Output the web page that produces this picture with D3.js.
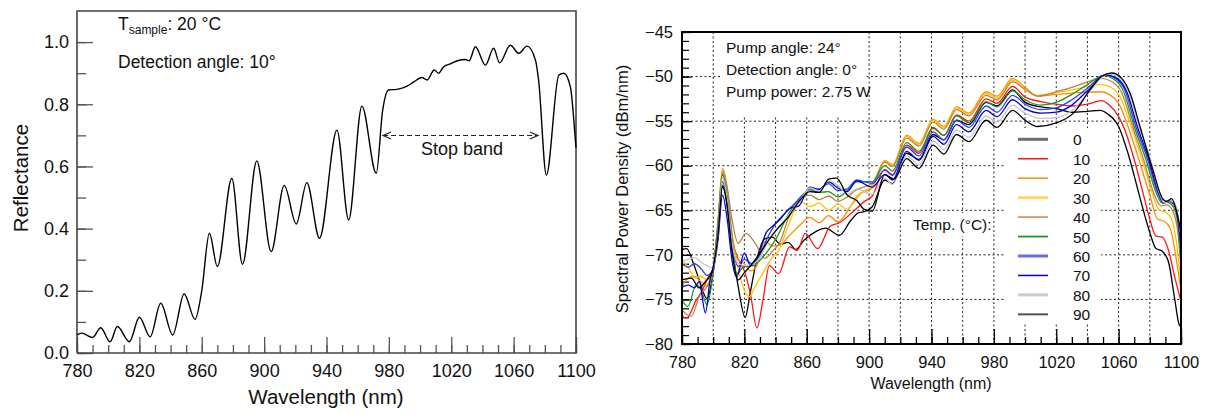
<!DOCTYPE html>
<html><head><meta charset="utf-8">
<script src="https://cdn.jsdelivr.net/npm/d3@7"></script>
<style>
body{margin:0;background:#fff}
svg{display:block}
text{font-family:Arial,"Liberation Sans",Helvetica,sans-serif;fill:#111}
</style>
</head><body>
<svg id="c" width="1208" height="414"></svg>
<script>
// ---------------- DATA ----------------
// Left panel: reflectance spectrum (wavelength nm, reflectance)
const reflWavelength = [780,783,790,795.2,801.2,805.9,813.6,820,826.9,833.7,841.4,848.7,855.7,860,864.9,870,879.3,886.1,895.3,904.5,912.9,920.6,927.4,935.5,946.7,954.2,962.7,971.9,976,979.8,985.2,991.6,996,1001.2,1004.5,1009.1,1011.9,1015,1019.4,1024,1029,1031.5,1035.5,1041.9,1047.2,1051,1057.9,1063.3,1068.6,1074,1076,1081,1089,1092.2,1096.4,1099.6,1100];
const reflValues     = [0.058,0.064,0.05,0.081,0.036,0.085,0.036,0.115,0.052,0.16,0.058,0.19,0.108,0.2,0.385,0.278,0.562,0.285,0.618,0.326,0.539,0.415,0.548,0.369,0.717,0.428,0.794,0.578,0.78,0.846,0.848,0.858,0.872,0.886,0.878,0.91,0.9,0.92,0.93,0.94,0.944,0.94,0.985,0.926,0.98,0.933,0.99,0.964,0.987,0.942,0.878,0.572,0.894,0.9,0.856,0.685,0.66];
const leftXTicks = [780,820,860,900,940,980,1020,1060,1100];
const leftYTicks = [0,0.2,0.4,0.6,0.8,1.0];

// Right panel: spectral power density (dBm/nm) per temperature, [wavelength, value]
const temps = [0,10,20,30,40,50,60,70,80,90];
const spdT0 = [[780,-69.4],[783,-69.3],[787,-70.8],[791,-72.8],[796,-74.9],[799,-73.0],[802,-68.5],[806,-62.4],[809,-64.5],[812,-69.0],[816,-73.5],[820.5,-77.0],[824,-74.0],[828,-70.5],[833,-68.2],[838,-68.0],[843,-68.8],[848,-68.6],[853,-69.4],[858,-68.4],[863,-67.7],[872,-67.0],[881,-67.8],[888,-66.2],[893,-65.3],[898,-65.1],[902,-64.6],[910,-61.6],[915,-62.0],[924,-58.6],[932,-59.3],[941,-56.5],[948,-57.1],[956,-54.9],[964,-55.4],[975,-52.9],[982,-53.3],[992,-51.5],[1000,-52.9],[1010,-53.4],[1020,-53.6],[1030,-54.0],[1040,-53.9],[1048,-53.8],[1053,-54.2],[1060,-55.6],[1066,-58.6],[1074,-63.8],[1080,-67.5],[1084,-69.3],[1088,-69.6],[1092,-70.8],[1096,-75.0],[1099,-77.9],[1100,-78.0]];
const spdT10 = [[780,-76.9],[783,-77.1],[789,-75.1],[793,-74.0],[797,-72.4],[800,-71.5],[803,-67.0],[806,-60.9],[809,-63.5],[812,-68.0],[816,-70.5],[820,-71.8],[824,-74.5],[828,-78.2],[832,-75.0],[836,-71.2],[842,-72.1],[849,-69.1],[854,-69.5],[859,-67.6],[867,-69.3],[875,-66.8],[881,-66.4],[890,-65.1],[897,-64.0],[902,-63.4],[910,-60.4],[915,-61.0],[924,-57.7],[932,-58.6],[941,-55.8],[948,-56.6],[956,-54.3],[964,-55.0],[975,-52.5],[982,-53.0],[992,-51.1],[1000,-52.3],[1010,-52.8],[1020,-53.1],[1030,-53.3],[1040,-53.1],[1049,-52.7],[1054,-53.2],[1060,-54.5],[1064,-56.0],[1070,-59.3],[1076,-63.3],[1080,-66.0],[1084,-67.9],[1088,-68.0],[1092,-69.5],[1096,-72.5],[1100,-75.2]];
const spdT20 = [[780,-73.6],[784,-72.6],[788,-72.4],[792,-73.0],[796,-73.5],[800,-71.8],[803,-66.5],[806,-60.3],[809,-62.5],[812,-67.5],[816,-70.6],[820,-71.0],[824,-71.8],[828,-71.2],[833,-68.5],[838,-69.0],[843,-68.9],[848,-68.0],[856,-66.6],[862,-65.8],[868,-66.4],[874,-65.6],[880,-66.3],[888,-64.6],[894,-63.2],[902,-62.5],[910,-59.4],[915,-59.9],[924,-56.6],[932,-57.5],[941,-54.8],[948,-55.6],[956,-53.4],[964,-54.1],[975,-51.7],[982,-52.2],[992,-50.2],[1000,-51.2],[1008,-52.2],[1020,-52.0],[1035,-51.8],[1049,-51.7],[1054,-52.0],[1060,-53.0],[1066,-55.6],[1073,-59.3],[1080,-63.3],[1085,-66.0],[1089,-66.2],[1093,-67.0],[1097,-70.5],[1100,-74.0]];
const spdT30 = [[780,-70.6],[784,-71.4],[788,-72.6],[792,-72.4],[796,-72.8],[800,-71.6],[803,-66.8],[806,-60.5],[809,-63.0],[812,-68.3],[816,-71.5],[820,-74.0],[823,-74.7],[827,-73.5],[832,-72.0],[837,-70.5],[842,-69.5],[848,-66.8],[856,-64.0],[862,-64.6],[868,-64.2],[874,-65.0],[880,-64.3],[886,-64.9],[892,-63.4],[902,-62.2],[910,-59.5],[915,-60.0],[924,-56.7],[932,-57.6],[941,-54.9],[948,-55.7],[956,-53.5],[964,-54.2],[975,-51.9],[982,-52.4],[992,-50.4],[1000,-51.5],[1008,-52.1],[1020,-51.8],[1030,-51.5],[1040,-51.1],[1049,-50.9],[1055,-51.2],[1061,-52.3],[1068,-55.6],[1075,-59.3],[1082,-63.3],[1086,-65.0],[1090,-65.2],[1094,-66.0],[1097,-68.5],[1100,-73.5]];
const spdT40 = [[780,-76.2],[785.8,-76.9],[791,-74.7],[797,-73.2],[800,-71.5],[803,-66.5],[806,-60.6],[809,-62.5],[812,-66.0],[816,-68.7],[821,-67.6],[827,-68.7],[833,-70.4],[838,-69.6],[843,-68.5],[848,-66.0],[856,-63.8],[862,-63.3],[868,-63.8],[874,-63.4],[880,-64.0],[886,-63.5],[892,-62.7],[902,-62.0],[910,-59.6],[915,-60.1],[924,-56.9],[932,-57.8],[941,-55.1],[948,-55.9],[956,-53.7],[964,-54.4],[975,-52.1],[982,-52.6],[992,-50.6],[1000,-51.4],[1008,-52.2],[1020,-51.7],[1030,-51.2],[1040,-50.6],[1049,-50.2],[1056,-50.6],[1062,-51.8],[1069,-55.6],[1076,-59.3],[1083,-63.3],[1087,-64.5],[1091,-64.4],[1095,-65.2],[1098,-67.5],[1100,-71.5]];
const spdT50 = [[780,-75.1],[783.8,-75.8],[789,-73.4],[792,-73.8],[796,-75.6],[800,-72.0],[803,-66.8],[806,-61.0],[809,-63.5],[812,-68.0],[815,-72.1],[820,-71.3],[826,-71.2],[830,-70.6],[834,-69.8],[840,-68.3],[848,-65.5],[856,-63.5],[862,-62.7],[868,-63.0],[874,-62.9],[880,-63.5],[886,-62.8],[892,-61.8],[902,-61.8],[910,-60.0],[915,-60.6],[924,-57.4],[932,-58.4],[941,-55.7],[948,-56.6],[956,-54.4],[964,-55.2],[975,-52.8],[982,-53.4],[992,-51.6],[1000,-52.6],[1010,-53.2],[1020,-52.9],[1030,-52.0],[1040,-50.9],[1050,-49.9],[1057,-50.3],[1063,-51.6],[1070,-55.6],[1077.5,-59.3],[1084,-63.0],[1088,-64.2],[1091,-64.1],[1095,-64.6],[1098,-66.5],[1100,-71.0]];
const spdT60 = [[780,-71.0],[784,-71.4],[788,-71.0],[792,-71.5],[796,-72.3],[800,-71.8],[803,-67.5],[806,-61.8],[809,-64.0],[812,-68.5],[816,-71.3],[820,-70.5],[825,-71.0],[830,-70.0],[835,-68.0],[840,-66.5],[848,-65.0],[856,-63.6],[862,-62.6],[868,-62.6],[874,-62.0],[880,-62.8],[886,-62.6],[892,-61.6],[902,-62.0],[910,-60.5],[915,-61.1],[924,-57.9],[932,-58.9],[941,-56.2],[948,-57.1],[956,-54.9],[964,-55.7],[975,-53.3],[982,-54.0],[992,-52.1],[1000,-53.1],[1010,-53.7],[1020,-53.5],[1030,-52.6],[1040,-51.3],[1051,-49.8],[1058,-50.2],[1064,-51.5],[1071,-55.6],[1078.6,-59.3],[1085,-63.0],[1089,-64.2],[1092,-64.0],[1095,-64.3],[1098,-66.0],[1100,-69.5]];
const spdT70 = [[780,-73.6],[784,-73.4],[788,-73.7],[791,-73.0],[795,-76.5],[798,-72.8],[801,-70.8],[803,-68.5],[806,-63.3],[809,-66.0],[812,-70.5],[815,-72.5],[820,-69.8],[824,-71.2],[829,-70.0],[834,-67.5],[838,-66.8],[843,-66.0],[849,-64.8],[855,-64.5],[862,-62.4],[868,-62.7],[874,-61.8],[880,-62.5],[886,-62.9],[892,-61.7],[902,-62.4],[910,-61.0],[915,-61.6],[924,-58.4],[932,-59.4],[941,-56.7],[948,-57.6],[956,-55.4],[964,-56.2],[975,-53.8],[982,-54.5],[992,-52.6],[1000,-53.6],[1010,-54.1],[1020,-54.0],[1030,-53.2],[1040,-51.6],[1052,-49.8],[1059,-50.2],[1065,-51.6],[1072,-55.6],[1079.4,-59.3],[1085.5,-63.0],[1089,-64.2],[1092,-63.9],[1095,-64.1],[1098,-65.8],[1100,-69.0]];
const spdT80 = [[780,-70.7],[784,-70.5],[788,-70.3],[792,-70.8],[796,-71.2],[800,-71.5],[803,-67.8],[806,-61.3],[809,-63.8],[812,-68.5],[816,-71.0],[821,-71.2],[826,-71.0],[831,-70.0],[836,-68.2],[842,-67.0],[848,-65.6],[856,-63.8],[862,-62.5],[868,-62.8],[874,-61.7],[880,-62.2],[886,-63.2],[892,-62.6],[902,-63.2],[910,-61.4],[915,-62.1],[924,-58.9],[932,-59.9],[941,-57.2],[948,-58.2],[956,-56.0],[964,-56.8],[975,-54.4],[982,-55.1],[992,-53.2],[1000,-54.1],[1010,-54.7],[1020,-54.6],[1030,-53.8],[1040,-52.0],[1053,-49.7],[1060,-50.1],[1066,-51.6],[1073,-55.6],[1080.5,-59.3],[1086,-63.0],[1089.5,-64.2],[1092.5,-63.9],[1095.5,-64.1],[1098,-65.5],[1100,-68.0]];
const spdT90 = [[780,-72.8],[786,-72.6],[791,-73.7],[795,-73.0],[799,-72.0],[803,-68.0],[806,-62.2],[809,-64.5],[812,-69.5],[816,-72.8],[820,-72.0],[825,-71.0],[830,-69.8],[835,-68.5],[840,-67.3],[848,-65.8],[856,-63.8],[862,-62.9],[868,-63.0],[874,-61.5],[879,-61.4],[886,-63.3],[892,-63.9],[897,-64.9],[902,-65.1],[910,-61.0],[916,-61.5],[924,-59.2],[932,-60.3],[941,-57.7],[948,-58.7],[956,-56.5],[964,-57.3],[975,-54.9],[982,-55.7],[992,-53.8],[1000,-54.9],[1008,-55.6],[1020,-55.2],[1031,-54.1],[1041.6,-51.5],[1049,-50.0],[1055.5,-49.6],[1062,-50.2],[1067.3,-51.85],[1073.7,-55.6],[1082,-60.5],[1088.6,-63.8],[1091,-64.0],[1094,-63.7],[1097,-65.0],[1100,-67.5]];
const spdSeries = [spdT0,spdT10,spdT20,spdT30,spdT40,spdT50,spdT60,spdT70,spdT80,spdT90];
const rightXTicks = [780,820,860,900,940,980,1020,1060,1100];
const rightYTicks = [-80,-75,-70,-65,-60,-55,-50,-45];

// ---------------- STYLE ----------------
const curveColors  = ['#000000','#ff1414','#ff8c00','#ffc400','#c08040','#1e961e','#3040f0','#0000dc','#c4c4c4','#000000'];
const swatchColors = ['#6e6e6e','#ff1414','#ff8c00','#ffd966','#c8864a','#1e961e','#6070e8','#0000dc','#cccccc','#505050'];
const swatchWidths = [3,1.5,1.5,3,1.5,1.8,3,1.5,3,2];

const svg = d3.select('#c');

// ================= LEFT PANEL =================
const lx = d3.scaleLinear().domain([780,1100]).range([77,576]);
const ly = d3.scaleLinear().domain([0,1.1]).range([353,11]);
const L = svg.append('g');

function styleAxis(g, col, w){
  g.select('.domain').remove();
  g.selectAll('.tick line').attr('stroke',col).attr('stroke-width',w);
}
L.append('g').attr('transform','translate(0,353)')
 .call(d3.axisBottom(lx).tickValues(d3.range(780,1101,10)).tickSize(-8).tickFormat(''))
 .call(g=>styleAxis(g,'#555',1.3));
L.append('g').attr('transform','translate(0,353)')
 .call(d3.axisBottom(lx).tickValues(leftXTicks).tickSize(-16).tickPadding(11).tickFormat(d3.format('d')))
 .call(g=>styleAxis(g,'#555',1.3))
 .call(g=>g.selectAll('text').attr('font-size',18).attr('fill','#111'));
L.append('g').attr('transform','translate(77,0)')
 .call(d3.axisLeft(ly).tickValues(d3.range(0,11).map(i=>i/10)).tickSize(-9).tickFormat(''))
 .call(g=>styleAxis(g,'#555',1.3));
L.append('g').attr('transform','translate(77,0)')
 .call(d3.axisLeft(ly).tickValues(leftYTicks).tickSize(-16).tickPadding(8).tickFormat(d3.format('.1f')))
 .call(g=>styleAxis(g,'#555',1.3))
 .call(g=>g.selectAll('text').attr('font-size',18).attr('fill','#111'));

L.append('path').attr('d',`M${lx(780)},${ly(0)}V${ly(1.1)}H${lx(1100)}V${ly(0)}H${lx(780)}`)
 .attr('fill','none').attr('stroke','#444').attr('stroke-width',1.6);

const reflPts = reflWavelength.map((w,i)=>[w,reflValues[i]]);
L.append('path').datum(reflPts)
 .attr('d',d3.line().x(d=>lx(d[0])).y(d=>ly(d[1])).curve(d3.curveMonotoneX))
 .attr('fill','none').attr('stroke','#000').attr('stroke-width',1.4);

// annotations
const t1 = L.append('text').attr('x',118).attr('y',30).attr('font-size',17.5);
t1.append('tspan').text('T');
t1.append('tspan').attr('font-size',12).attr('dy',4).text('sample');
t1.append('tspan').attr('dy',-4).text(': 20 °C');
L.append('text').attr('x',118).attr('y',68).attr('font-size',17.5).text('Detection angle: 10°');

// stop band arrow
const ay = 135.5, ax1 = 383, ax2 = 538;
L.append('line').attr('x1',ax1).attr('x2',ax2).attr('y1',ay).attr('y2',ay)
 .attr('stroke','#222').attr('stroke-width',1.2).attr('stroke-dasharray','5,3');
L.append('path').attr('d',`M${ax1+8},${ay-3.5}L${ax1},${ay}L${ax1+8},${ay+3.5}M${ax2-8},${ay-3.5}L${ax2},${ay}L${ax2-8},${ay+3.5}`)
 .attr('fill','none').attr('stroke','#222').attr('stroke-width',1.2);
L.append('text').attr('x',462).attr('y',155).attr('text-anchor','middle').attr('font-size',18).text('Stop band');

// titles
L.append('text').attr('x',326).attr('y',404).attr('text-anchor','middle').attr('font-size',20.5).text('Wavelength (nm)');
L.append('text').attr('transform','translate(28,178) rotate(-90)').attr('text-anchor','middle').attr('font-size',20.5).text('Reflectance');

// ================= RIGHT PANEL =================
const rx = d3.scaleLinear().domain([780,1100]).range([682,1181]);
const ry = d3.scaleLinear().domain([-80,-45]).range([344,32]);
const R = svg.append('g');

// grid
R.append('g').selectAll('line').data(d3.range(800,1081,20)).join('line')
 .attr('x1',d=>rx(d)).attr('x2',d=>rx(d)).attr('y1',ry(-45)).attr('y2',ry(-80))
 .attr('stroke','#222').attr('stroke-width',1).attr('stroke-dasharray','2,2.5');
R.append('g').selectAll('line').data(d3.range(-75,-49,5)).join('line')
 .attr('y1',d=>ry(d)).attr('y2',d=>ry(d)).attr('x1',rx(780)).attr('x2',rx(1100))
 .attr('stroke','#222').attr('stroke-width',1).attr('stroke-dasharray','2,2.5');

// opaque boxes behind text
R.append('rect').attr('x',722).attr('y',33).attr('width',143).attr('height',84).attr('fill','#fff');
R.append('rect').attr('x',1005).attr('y',128).attr('width',96).attr('height',195).attr('fill','#fff');
R.append('rect').attr('x',911).attr('y',213).attr('width',81).attr('height',23).attr('fill','#fff');

// ticks
R.append('g').attr('transform','translate(0,344)')
 .call(d3.axisBottom(rx).tickValues(d3.range(780,1101,10)).tickSize(-7).tickFormat(''))
 .call(g=>styleAxis(g,'#000',1.3));
R.append('g').attr('transform','translate(0,344)')
 .call(d3.axisBottom(rx).tickValues(rightXTicks).tickSize(-15).tickPadding(12).tickFormat(d3.format('d')))
 .call(g=>styleAxis(g,'#000',1.3))
 .call(g=>g.selectAll('text').attr('font-size',16.5).attr('fill','#111'));
R.append('g').attr('transform','translate(682,0)')
 .call(d3.axisLeft(ry).tickValues(d3.range(-80,-44,1)).tickSize(-7).tickFormat(''))
 .call(g=>styleAxis(g,'#000',1.2));
R.append('g').attr('transform','translate(682,0)')
 .call(d3.axisLeft(ry).tickValues(rightYTicks).tickSize(-10).tickPadding(9).tickFormat(d3.format('d')))
 .call(g=>styleAxis(g,'#000',1.2))
 .call(g=>g.selectAll('text').attr('font-size',16.5).attr('fill','#111'));

// curves
svg.append('defs').append('clipPath').attr('id','rclip')
 .append('rect').attr('x',682).attr('y',32).attr('width',499).attr('height',312);
const rline = d3.line().x(d=>rx(d[0])).y(d=>ry(d[1])).curve(d3.curveMonotoneX);
R.append('g').attr('clip-path','url(#rclip)').selectAll('path').data(spdSeries).join('path')
 .attr('d',rline).attr('fill','none')
 .attr('stroke',(d,i)=>curveColors[i]).attr('stroke-width',1.3);

// frame
R.append('rect').attr('x',682).attr('y',32).attr('width',499).attr('height',312)
 .attr('fill','none').attr('stroke','#000').attr('stroke-width',2);

// annotations
const notes = ['Pump angle: 24°','Detection angle: 0°','Pump power: 2.75 W'];
R.selectAll('text.note').data(notes).join('text').attr('class','note')
 .attr('x',726).attr('y',(d,i)=>53+i*22).attr('font-size',15.5).text(d=>d);

// legend
R.append('text').attr('x',913).attr('y',230).attr('font-size',15.5).text('Temp. (°C):');
const lg = R.append('g').selectAll('g').data(temps).join('g')
 .attr('transform',(d,i)=>`translate(0,${139.3+i*19.45})`);
lg.append('line').attr('x1',1018).attr('x2',1048).attr('y1',0).attr('y2',0)
 .attr('stroke',(d,i)=>swatchColors[i]).attr('stroke-width',(d,i)=>swatchWidths[i]);
lg.append('text').attr('x',1073).attr('y',6).attr('font-size',15.5).text(d=>d);

// titles
R.append('text').attr('x',931).attr('y',389).attr('text-anchor','middle').attr('font-size',16).text('Wavelength (nm)');
R.append('text').attr('transform','translate(628,189) rotate(-90)').attr('text-anchor','middle').attr('font-size',16.5).text('Spectral Power Density (dBm/nm)');
</script>
</body></html>
